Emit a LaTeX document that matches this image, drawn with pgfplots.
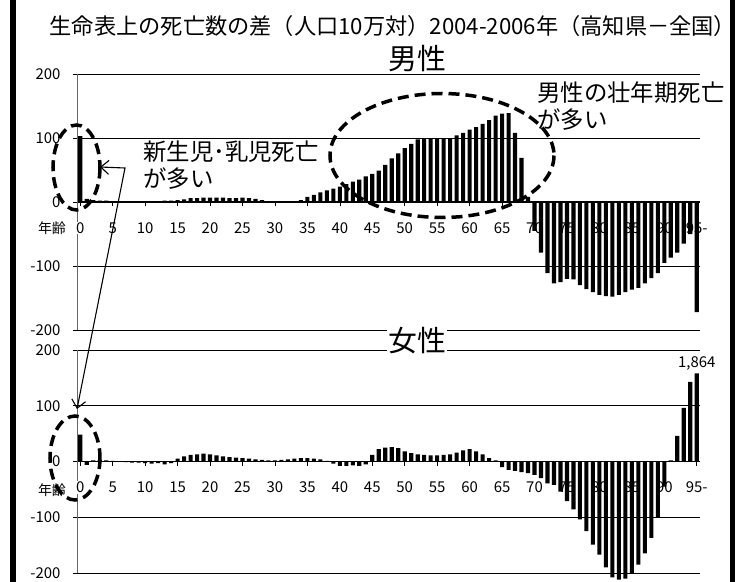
\documentclass[border=0pt]{standalone}
\usepackage{pgfplots}
\pgfplotsset{compat=1.18}
\usepackage{pgfplotstable}
\usepackage{fontspec}
\setmainfont{Noto Sans CJK JP}
\usetikzlibrary{arrows.meta}

\pgfplotstableread{
age val
0 103
1 5
2 3
3 2
4 2
5 1
6 1
7 1
8 1
9 0
10 1
11 1
12 1
13 2
14 2
15 3
16 4
17 6
18 6
19 7
20 7
21 7
22 7
23 6
24 6
25 7
26 6
27 5
28 3
29 1
30 1
31 0
32 1
33 1
34 3
35 8
36 11
37 15
38 18
39 21
40 24
41 28
42 32
43 35
44 40
45 44
46 49
47 58
48 68
49 76
50 84
51 91
52 98
53 99
54 99
55 99
56 99
57 99
58 104
59 108
60 113
61 117
62 122
63 128
64 135
65 138
66 139
67 108
68 69
69 8
70 -45
71 -79
72 -111
73 -127
74 -125
75 -120
76 -121
77 -130
78 -136
79 -141
80 -145
81 -147
82 -148
83 -145
84 -141
85 -137
86 -134
87 -127
88 -119
89 -111
90 -95
91 -87
92 -79
93 -65
94 -50
95 -172
}\male

\pgfplotstableread{
age val
0 48
1 -6
2 2
3 3
4 2
5 1
6 0
7 -1
8 -2
9 -2
10 -3
11 -4
12 -3
13 -5
14 -3
15 5
16 9
17 12
18 13
19 14
20 13
21 11
22 9
23 8
24 7
25 6
26 5
27 4
28 3
29 2
30 2
31 3
32 4
33 5
34 6
35 6
36 5
37 4
38 1
39 -4
40 -8
41 -8
42 -7
43 -8
44 -5
45 12
46 22
47 25
48 26
49 24
50 18
51 15
52 13
53 12
54 11
55 11
56 12
57 13
58 16
59 20
60 22
61 18
62 13
63 6
64 2
65 -10
66 -15
67 -17
68 -19
69 -21
70 -24
71 -30
72 -39
73 -42
74 -54
75 -71
76 -86
77 -104
78 -125
79 -149
80 -167
81 -190
82 -208
83 -212
84 -210
85 -200
86 -185
87 -165
88 -137
89 -100
90 -45
91 2
92 46
93 96
94 143
95 158
}\female

\pgfplotsset{
  mychart/.style={
    scale only axis, width=623bp,
    xmin=-0.5, xmax=95.5, ymin=-200, ymax=200,
    axis x line=middle, axis y line=left,
    x axis line style={-, black, line width=1.3bp},
    y axis line style={-, black!60, line width=0.6bp},
    xtick={0,5,...,95},
    xticklabels={0,5,10,15,20,25,30,35,40,45,50,55,60,65,70,75,80,85,90,95-},
    ytick={-200,-100,0,100,200},
    ymajorgrids, grid style={black, line width=0.8bp},
    hide obscured y ticks=false,
    hide obscured x ticks=false,
    tick align=outside, major tick length=4bp,
    tick style={black, line width=0.6bp},
    /pgf/number format/assume math mode=true,
    ticklabel style={font=\fontsize{15}{15}\selectfont},
    xticklabel style={anchor=center, yshift=-22bp, fill=white, inner sep=0.5bp},
    yticklabel style={xshift=-9bp},
    ybar, bar width=4.1bp, clip=false,
  }
}

\begin{document}
\begin{tikzpicture}
\useasboundingbox (0,0) rectangle (749bp,-582bp);

\begin{axis}[mychart, height=256bp, at={(77bp,-330bp)}, anchor=south west]
\addplot[fill=black, draw=none] table[x=age, y=val]{\male};
\end{axis}

\begin{axis}[mychart, height=223bp, at={(77bp,-573bp)}, anchor=south west]
\addplot[fill=black, draw=none] table[x=age, y=val]{\female};
\node[anchor=south, font=\fontsize{15}{15}\selectfont, inner sep=1bp] at (axis cs:95,162) {1,864};
\end{axis}

\begin{scope}[x=1bp, y=-1bp]
% frame
\draw[line width=5bp] (13,0) -- (13,582);
\draw[line width=5bp] (732.5,0) -- (732.5,582);
% titles
\node[font=\fontsize{22.3}{22.3}\selectfont, inner sep=0] at (393,26) {生命表上の死亡数の差（人口10万対）2004-2006年（高知県－全国）};
\node[font=\fontsize{29}{29}\selectfont, inner sep=1bp, fill=white] at (417,59) {男性};
\node[font=\fontsize{29}{29}\selectfont, inner sep=1bp, fill=white] at (417,341) {女性};
% age labels
\node[font=\fontsize{14}{14}\selectfont, inner sep=0] at (52,228) {年齢};
\node[font=\fontsize{14}{14}\selectfont, inner sep=0] at (52,490) {年齢};
% annotations
\node[anchor=west, align=left, font=\fontsize{23.5}{27}\selectfont, inner sep=0] at (143,165.5) {新生児･乳児死亡\\が多い};
\node[anchor=west, align=left, font=\fontsize{23.5}{27}\selectfont, inner sep=0] at (537,106.5) {男性の壮年期死亡\\が多い};
% dashed ellipses
\draw[line width=3.5bp, dash pattern=on 11bp off 6bp] (76.5,167.5) ellipse [x radius=23.5, y radius=42.5];
\draw[line width=3.5bp, dash pattern=on 11bp off 6bp] (442,155.5) ellipse [x radius=112, y radius=62];
\draw[line width=3.5bp, dash pattern=on 11bp off 6bp] (75,458) ellipse [x radius=25, y radius=42];
% arrow
\draw[line width=1.1bp, {Straight Barb[length=8bp,width=14bp]}-{Straight Barb[length=8bp,width=14bp]}] (100,167) -- (125,168) -- (77,409);
\end{scope}
\end{tikzpicture}
\end{document}
